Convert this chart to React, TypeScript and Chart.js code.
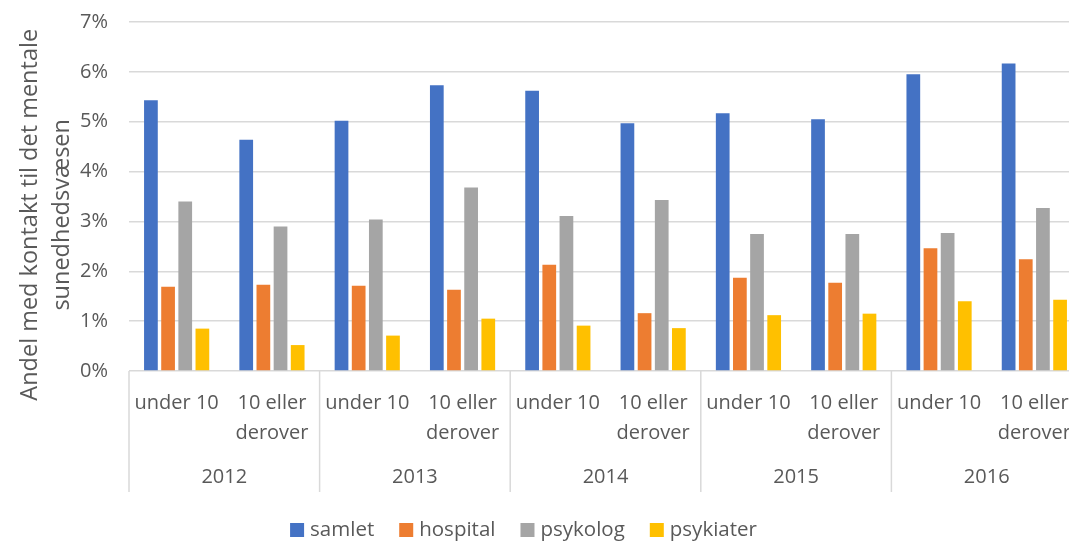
import React, { useEffect, useRef } from "react";
import { Chart, registerables } from "chart.js";

Chart.register(...registerables);

const years = ["2012", "2013", "2014", "2015", "2016"];
const subLabels: (string | string[])[] = ["under 10", ["10 eller", "derover"]];
const seriesNames = ["samlet", "hospital", "psykolog", "psykiater"];
const seriesColors = ["#4472C4", "#ED7D31", "#A5A5A5", "#FFC000"];

const samlet = [5.43, 4.64, 5.02, 5.73, 5.62, 4.97, 5.17, 5.05, 5.95, 6.17];
const hospital = [1.69, 1.73, 1.71, 1.63, 2.13, 1.16, 1.87, 1.77, 2.46, 2.24];
const psykolog = [3.4, 2.9, 3.04, 3.68, 3.11, 3.43, 2.75, 2.75, 2.77, 3.27];
const psykiater = [0.85, 0.52, 0.71, 1.05, 0.91, 0.86, 1.12, 1.15, 1.4, 1.43];

const FONT = "'Open Sans', 'Noto Sans', sans-serif";
const TEXT = "#595959";
const GRID = "#D9D9D9";
const SHIFT = 11;
const CW = 1082;
const CH = 543 + SHIFT;

export default function App() {
  const ref = useRef<HTMLCanvasElement | null>(null);

  useEffect(() => {
    document.body.style.margin = "0";
    const labels: (string | string[])[] = [];
    years.forEach(() => subLabels.forEach((s) => labels.push(s)));
    const data = [samlet, hospital, psykolog, psykiater];

    const yearPlugin = {
      id: "yearPlugin",
      afterDraw(chart: any) {
        const x = chart.scales.x;
        const ctx = chart.ctx;
        const bottom = chart.chartArea.bottom;
        const step = x.getPixelForValue(1) - x.getPixelForValue(0);
        ctx.save();
        ctx.strokeStyle = GRID;
        ctx.lineWidth = 1.5;
        ctx.fillStyle = TEXT;
        ctx.font = `20px ${FONT}`;
        ctx.textAlign = "center";
        ctx.textBaseline = "middle";
        years.forEach((yr, i) => {
          const left = x.getPixelForValue(2 * i) - step / 2;
          ctx.beginPath();
          ctx.moveTo(left, bottom);
          ctx.lineTo(left, bottom + 121);
          ctx.stroke();
          const c = (x.getPixelForValue(2 * i) + x.getPixelForValue(2 * i + 1)) / 2;
          ctx.fillText(yr, c, bottom + 106);
        });

        // legend
        const box = 14;
        const gap = 6;
        const itemGap = 25;
        ctx.font = `20.5px ${FONT}`;
        const widths = seriesNames.map((n) => box + gap + ctx.measureText(n).width);
        const total = widths.reduce((a, b) => a + b, 0) + itemGap * (seriesNames.length - 1);
        let lx = 523.5 - total / 2;
        const ly = 530 + SHIFT;
        ctx.textAlign = "left";
        seriesNames.forEach((n, i) => {
          ctx.fillStyle = seriesColors[i];
          ctx.fillRect(lx, ly - box / 2, box, box);
          ctx.fillStyle = TEXT;
          ctx.fillText(n, lx + box + gap, ly);
          lx += widths[i] + itemGap;
        });
        ctx.restore();
      },
    };

    const chart = new Chart(ref.current!, {
      type: "bar",
      data: {
        labels,
        datasets: seriesNames.map((n, i) => ({
          label: n,
          data: data[i],
          backgroundColor: seriesColors[i],
          categoryPercentage: 0.72,
          barPercentage: 0.8,
        })),
      },
      options: {
        animation: false,
        responsive: false,
        layout: { padding: { top: 0, right: 0, left: 0, bottom: 51 } },
        plugins: {
          tooltip: { enabled: false },
          legend: { display: false },
        },
        scales: {
          x: {
            grid: { display: false },
            border: { display: false },
            ticks: {
              autoSkip: false,
              maxRotation: 0,
              font: { family: FONT, size: 20, lineHeight: 1.5 },
              color: TEXT,
              padding: 9,
            },
            afterFit(scale: any) {
              scale.height = 121;
            },
          },
          y: {
            min: 0,
            max: 7,
            grid: { color: GRID, lineWidth: 1.5, drawTicks: false },
            border: { display: false },
            ticks: {
              stepSize: 1,
              padding: 21,
              font: { family: FONT, size: 20 },
              color: TEXT,
              callback: (v: any) => v + "%",
            },
            title: {
              display: true,
              text: [
                "Andel med kontakt til det mentale      ",
                "sunedhedsvæsen      ",
              ],
              font: { family: FONT, size: 23.5, lineHeight: 1.36 },
              color: TEXT,
              padding: { top: 14, bottom: 0 },
            },
            afterFit(scale: any) {
              scale.width = 129;
            },
          },
        },
      },
      plugins: [yearPlugin],
    });
    return () => chart.destroy();
  }, []);

  return (
    <div style={{ width: 1069, height: 543, overflow: "hidden", position: "relative" }}>
      <canvas
        ref={ref}
        width={CW}
        height={CH}
        style={{ position: "absolute", left: 0, top: -SHIFT, width: CW, height: CH }}
      />
    </div>
  );
}
